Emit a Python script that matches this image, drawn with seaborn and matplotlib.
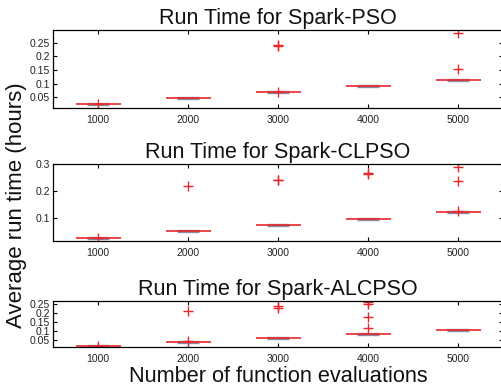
import numpy as np
import pandas as pd
import matplotlib
matplotlib.use("Agg")
import matplotlib.pyplot as plt
import seaborn as sns

sns.set_theme(style="white")
plt.rcParams['font.family'] = ['Liberation Sans', 'DejaVu Sans']

evals = ["1000", "2000", "3000", "4000", "5000"]
titles = ["Run Time for Spark-PSO", "Run Time for Spark-CLPSO", "Run Time for Spark-ALCPSO"]

# 20 runs per setting (hours)
pso_1000 = [0.0245, 0.0246, 0.0247, 0.0248, 0.0248, 0.0249, 0.0249, 0.0250, 0.0250, 0.0250,
            0.0250, 0.0251, 0.0251, 0.0251, 0.0252, 0.0252, 0.0253, 0.0254, 0.0255, 0.0270]
pso_2000 = [0.0475, 0.0476, 0.0477, 0.0478, 0.0478, 0.0479, 0.0479, 0.0480, 0.0480, 0.0480,
            0.0480, 0.0481, 0.0481, 0.0481, 0.0482, 0.0482, 0.0483, 0.0484, 0.0484, 0.0485]
pso_3000 = [0.0692, 0.0693, 0.0694, 0.0695, 0.0695, 0.0696, 0.0696, 0.0697, 0.0697, 0.0697,
            0.0698, 0.0698, 0.0698, 0.0699, 0.0699, 0.0700, 0.0700, 0.0715, 0.2390, 0.2400]
pso_4000 = [0.0918, 0.0919, 0.0920, 0.0921, 0.0921, 0.0922, 0.0923, 0.0923, 0.0924, 0.0924,
            0.0925, 0.0925, 0.0926, 0.0926, 0.0927, 0.0927, 0.0928, 0.0929, 0.0930, 0.0931]
pso_5000 = [0.1122, 0.1123, 0.1124, 0.1125, 0.1126, 0.1126, 0.1127, 0.1128, 0.1128, 0.1129,
            0.1130, 0.1130, 0.1131, 0.1132, 0.1132, 0.1133, 0.1134, 0.1135, 0.1550, 0.2840]

clpso_1000 = [0.0235, 0.0236, 0.0237, 0.0238, 0.0238, 0.0239, 0.0239, 0.0240, 0.0240, 0.0240,
              0.0241, 0.0241, 0.0241, 0.0242, 0.0242, 0.0243, 0.0243, 0.0244, 0.0245, 0.0255]
clpso_2000 = [0.0485, 0.0486, 0.0487, 0.0488, 0.0488, 0.0489, 0.0489, 0.0490, 0.0490, 0.0490,
              0.0490, 0.0491, 0.0491, 0.0491, 0.0492, 0.0492, 0.0493, 0.0494, 0.0495, 0.2170]
clpso_3000 = [0.0705, 0.0706, 0.0707, 0.0708, 0.0708, 0.0709, 0.0709, 0.0710, 0.0710, 0.0710,
              0.0711, 0.0711, 0.0711, 0.0712, 0.0712, 0.0713, 0.0714, 0.0715, 0.2400, 0.2420]
clpso_4000 = [0.0945, 0.0946, 0.0947, 0.0948, 0.0948, 0.0949, 0.0949, 0.0950, 0.0950, 0.0950,
              0.0950, 0.0951, 0.0951, 0.0951, 0.0952, 0.0952, 0.0953, 0.0954, 0.2640, 0.2660]
clpso_5000 = [0.1195, 0.1196, 0.1197, 0.1198, 0.1199, 0.1200, 0.1200, 0.1201, 0.1201, 0.1202,
              0.1202, 0.1203, 0.1203, 0.1204, 0.1205, 0.1206, 0.1235, 0.2350, 0.2880, 0.1196]

alcpso_1000 = [0.0165, 0.0178, 0.0179, 0.0180, 0.0180, 0.0181, 0.0181, 0.0182, 0.0182, 0.0182,
               0.0183, 0.0183, 0.0183, 0.0184, 0.0184, 0.0185, 0.0185, 0.0186, 0.0186, 0.0187]
alcpso_2000 = [0.0400, 0.0401, 0.0402, 0.0403, 0.0403, 0.0404, 0.0404, 0.0405, 0.0405, 0.0405,
               0.0406, 0.0406, 0.0406, 0.0407, 0.0407, 0.0408, 0.0409, 0.0410, 0.0440, 0.2090]
alcpso_3000 = [0.0625, 0.0626, 0.0627, 0.0628, 0.0628, 0.0629, 0.0629, 0.0630, 0.0630, 0.0630,
               0.0631, 0.0631, 0.0631, 0.0632, 0.0632, 0.0633, 0.0634, 0.0635, 0.2280, 0.2370]
alcpso_4000 = [0.0840, 0.0841, 0.0842, 0.0843, 0.0843, 0.0844, 0.0844, 0.0845, 0.0845, 0.0845,
               0.0846, 0.0846, 0.0846, 0.0847, 0.0848, 0.0849, 0.1160, 0.1750, 0.2500, 0.2610]
alcpso_5000 = [0.1045, 0.1046, 0.1047, 0.1048, 0.1048, 0.1049, 0.1049, 0.1050, 0.1050, 0.1050,
               0.1050, 0.1051, 0.1051, 0.1051, 0.1052, 0.1052, 0.1053, 0.1054, 0.1054, 0.1055]

series = [
    [pso_1000, pso_2000, pso_3000, pso_4000, pso_5000],
    [clpso_1000, clpso_2000, clpso_3000, clpso_4000, clpso_5000],
    [alcpso_1000, alcpso_2000, alcpso_3000, alcpso_4000, alcpso_5000],
]
ylims = [(0.0115, 0.296), (0.0127, 0.300), (0.0125, 0.265)]
yticks = [[0.05, 0.1, 0.15, 0.2, 0.25], [0.1, 0.2, 0.3], [0.05, 0.1, 0.15, 0.2, 0.25]]
ytick_labels = [["0.05", "0.1", "0.15", "0.2", "0.25"], ["0.1", "0.2", "0.3"],
                ["0.05", "0.1", "0.15", "0.2", "0.25"]]

W, H = 502, 391
fig = plt.figure(figsize=(W / 100, H / 100), dpi=100)
boxes_px = [(30, 108), (164, 241), (301, 347)]  # top, bottom in pixels
left_px, right_px = 53, 503

for i, (top, bot) in enumerate(boxes_px):
    ax = fig.add_axes([left_px / W, 1 - bot / H, (right_px - left_px) / W, (bot - top) / H])
    rows = []
    for e, vals in zip(evals, series[i]):
        for v in vals:
            rows.append({"evals": e, "time": v})
    df = pd.DataFrame(rows)
    # grey-blue box (narrow)
    sns.boxplot(data=df, x="evals", y="time", order=evals, ax=ax, width=0.25, whis=1.5,
                boxprops=dict(facecolor="#9a9ab0", edgecolor="#8a8aa6", linewidth=2.4),
                medianprops=dict(color="#9a9ab0", linewidth=0),
                whiskerprops=dict(color="#8a8aa6", linestyle="--", linewidth=0.6),
                capprops=dict(color="#8a8aa6", linewidth=0.6),
                flierprops=dict(marker="+", markeredgecolor="#e8272a", markerfacecolor="none",
                                markersize=7, markeredgewidth=1.0))
    # red median across full box width
    sns.boxplot(data=df, x="evals", y="time", order=evals, ax=ax, width=0.5, whis=1.5,
                showfliers=False, showcaps=False,
                boxprops=dict(facecolor="none", edgecolor="none", linewidth=0),
                whiskerprops=dict(linewidth=0),
                medianprops=dict(color="#e8272a", linewidth=1.2))
    ax.set_xlim(-0.5, 4.5)
    ax.set_ylim(*ylims[i])
    ax.set_yticks(yticks[i])
    ax.set_yticklabels(ytick_labels[i])
    ax.set_xlabel("")
    ax.set_ylabel("")
    ax.tick_params(direction="in", top=True, right=True, bottom=True, left=True,
                   length=3, width=0.8, labelsize=7.5, colors="black", labelcolor="#222222", pad=5)
    ax.tick_params(axis="y", pad=2)
    for s in ax.spines.values():
        s.set_color("black")
        s.set_linewidth(0.9)
    ax.set_title(titles[i], fontsize=15.5, pad=4, color="#111111")

fig.text(0.032, 1 - 205 / H, "Average run time (hours)", rotation=90, ha="center", va="center",
         fontsize=16, color="#111111")
fig.text(278 / W, 1 - 377 / H, "Number of function evaluations", ha="center", va="center",
         fontsize=15.7, color="#111111")

fig.savefig("out.png", dpi=100)
